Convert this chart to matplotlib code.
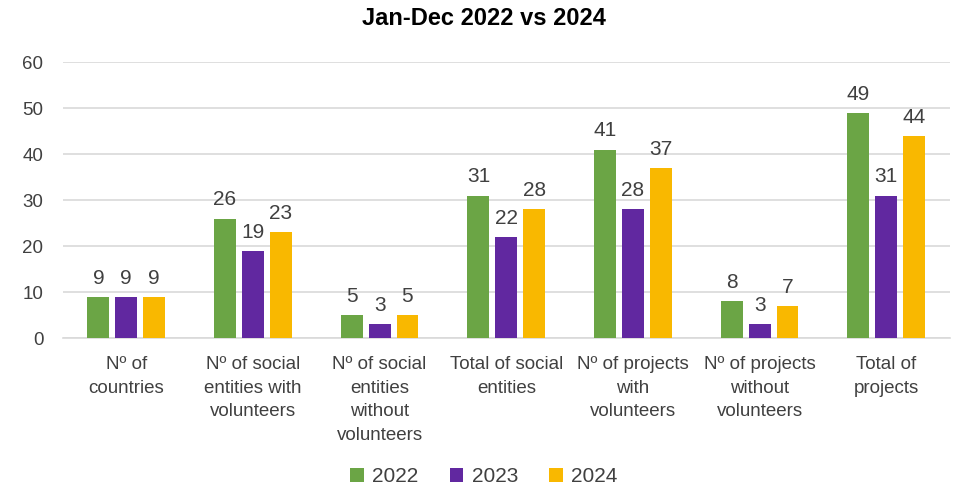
import numpy as np
import matplotlib.pyplot as plt

plt.rcParams['font.family'] = ['Liberation Sans', 'DejaVu Sans']

categories = [
    'Nº of\ncountries',
    'Nº of social\nentities with\nvolunteers',
    'Nº of social\nentities\nwithout\nvolunteers',
    'Total of social\nentities',
    'Nº of projects\nwith\nvolunteers',
    'Nº of projects\nwithout\nvolunteers',
    'Total of\nprojects',
]
years = ['2022', '2023', '2024']
values_2022 = [9, 26, 5, 31, 41, 8, 49]
values_2023 = [9, 19, 3, 22, 28, 3, 31]
values_2024 = [9, 23, 5, 28, 37, 7, 44]
colors = ['#6BA545', '#6128A0', '#F9B800']

text_color = '#404040'

fig = plt.figure(figsize=(9.68, 4.9), dpi=100)
ax = fig.add_axes([0.065, 0.31, 0.916, 0.563])

x = np.arange(len(categories))
width = 0.173
step = 0.22
for i, (vals, year) in enumerate(zip([values_2022, values_2023, values_2024], years)):
    bars = ax.bar(x + (i - 1) * step, vals, width, color=colors[i], label=year, zorder=3)
    for b, v in zip(bars, vals):
        ax.text(b.get_x() + b.get_width() / 2, v + 2.0, str(v), ha='center', va='bottom',
                fontsize=15, color=text_color)

ax.set_xlim(-0.5, len(categories) - 0.5)
ax.set_ylim(0, 60)
ax.set_yticks(range(0, 61, 10))
ax.yaxis.grid(True, color='#D9D9D9', linewidth=1.2, zorder=0)
ax.set_xticks(x)
ax.set_xticklabels(categories, fontsize=13.5, color=text_color, linespacing=1.5)
ax.tick_params(axis='x', length=0, pad=13)
ax.tick_params(axis='y', length=0, pad=14, labelsize=13.5, labelcolor=text_color)
for s in ['top', 'right', 'left']:
    ax.spines[s].set_visible(False)
ax.spines['bottom'].set_color('#D9D9D9')
ax.spines['bottom'].set_linewidth(1.2)

fig.suptitle('Jan-Dec 2022 vs 2024', x=0.5, y=0.985, fontsize=17, fontweight='bold')

fig.legend(loc='lower center', bbox_to_anchor=(0.5, -0.03), ncol=3, frameon=False,
           fontsize=15, handlelength=0.65, handleheight=0.65, handletextpad=0.4,
           columnspacing=1.5, labelcolor=text_color)

fig.savefig('out.png', dpi=100)
